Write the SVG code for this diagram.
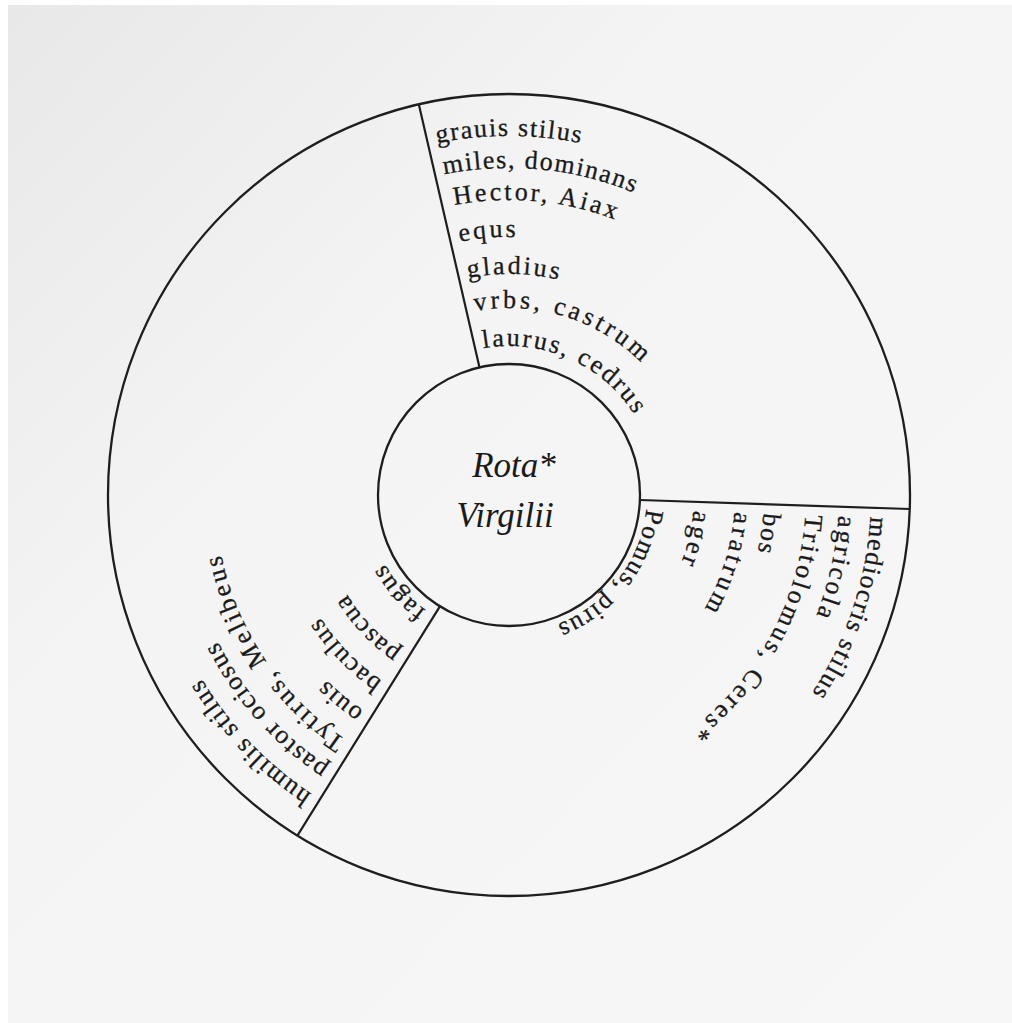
<svg xmlns="http://www.w3.org/2000/svg" xmlns:xlink="http://www.w3.org/1999/xlink" width="1012" height="1023" viewBox="0 0 1012 1023">
<style>
.ring{fill:none;stroke:#1e1e1e;stroke-width:2.3}
.div{stroke:#1e1e1e;stroke-width:2.2;fill:none}
.lbl{font-family:"Liberation Serif","DejaVu Serif",serif;font-size:26px;letter-spacing:1.6px;fill:#1a1a1a;stroke:#1a1a1a;stroke-width:0.3}
.title{font-family:"Liberation Serif","DejaVu Serif",serif;font-style:italic;font-size:35px;fill:#1a1a1a;text-anchor:middle}
</style>
<defs>
<linearGradient id="paper" x1="0" y1="0" x2="1" y2="1">
<stop offset="0" stop-color="#e8e8e8"/>
<stop offset="0.35" stop-color="#f4f4f4"/>
<stop offset="1" stop-color="#f7f7f7"/>
</linearGradient>
<path id="a359" d="M868,495 A359,359 0 0 1 151.37,526.29"/>
<path id="a327" d="M836,495 A327,327 0 0 1 183.25,523.5"/>
<path id="a295" d="M804,495 A295,295 0 0 1 215.12,520.71"/>
<path id="a258" d="M767,495 A258,258 0 0 1 251.98,517.49"/>
<path id="a221" d="M730,495 A221,221 0 0 1 288.84,514.26"/>
<path id="a187" d="M696,495 A187,187 0 0 1 322.71,511.3"/>
<path id="a149" d="M658,495 A149,149 0 0 1 360.57,507.99"/>
<path id="a362" d="M871,495 A362,362 0 0 1 148.38,526.55"/>
<path id="a330" d="M839,495 A330,330 0 0 1 180.26,523.76"/>
<path id="a297" d="M806,495 A297,297 0 0 1 213.13,520.89"/>
<path id="a255" d="M764,495 A255,255 0 0 1 254.97,517.23"/>
<path id="a226" d="M735,495 A226,226 0 0 1 283.86,514.7"/>
<path id="a185" d="M694,495 A185,185 0 0 1 324.7,511.12"/>
<path id="a138" d="M647,495 A138,138 0 0 1 371.53,507.03"/>
<path id="a358" d="M867,495 A358,358 0 0 1 152.36,526.2"/>
<path id="a326" d="M835,495 A326,326 0 0 1 184.24,523.41"/>
<path id="a294" d="M803,495 A294,294 0 0 1 216.12,520.62"/>
<path id="a260" d="M769,495 A260,260 0 0 1 249.99,517.66"/>
<path id="a225" d="M734,495 A225,225 0 0 1 284.86,514.61"/>
<path id="a190" d="M699,495 A190,190 0 0 1 319.72,511.56"/>
<path id="a142" d="M651,495 A142,142 0 0 1 367.54,507.38"/>
</defs>
<rect x="0" y="0" width="1012" height="1023" fill="#ffffff"/>
<rect x="8" y="5" width="1004" height="1018" fill="url(#paper)"/>

<g id="outer-ring">
<circle class="ring" cx="509" cy="495" r="401"/>
</g>

<g id="center">
<circle class="ring" cx="509" cy="495" r="131"/>
<text class="title" x="514" y="477">Rota*</text>
<text class="title" x="505" y="527">Virgilii</text>
</g>

<g id="connectors">
<line class="div" x1="479.5" y1="367.4" x2="418.8" y2="104.3"/>
<line class="div" x1="639.9" y1="500" x2="909.7" y2="509"/>
<line class="div" x1="439.9" y1="606.3" x2="297.4" y2="835.6"/>
</g>

<g id="segment-grauis">
<text class="lbl" transform="rotate(257 509 495)"><textPath xlink:href="#a359" href="#a359" startOffset="9">grauis stilus</textPath></text>
<text class="lbl" transform="rotate(257 509 495)"><textPath xlink:href="#a327" href="#a327" startOffset="9">miles, dominans</textPath></text>
<text class="lbl" transform="rotate(257 509 495)" style="letter-spacing:2.8px"><textPath xlink:href="#a295" href="#a295" startOffset="12">Hector, Aiax</textPath></text>
<text class="lbl" transform="rotate(257 509 495)" style="letter-spacing:2.8px"><textPath xlink:href="#a258" href="#a258" startOffset="9">equs</textPath></text>
<text class="lbl" transform="rotate(257 509 495)" style="letter-spacing:2.6px"><textPath xlink:href="#a221" href="#a221" startOffset="9">gladius</textPath></text>
<text class="lbl" transform="rotate(257 509 495)" style="letter-spacing:3.4px"><textPath xlink:href="#a187" href="#a187" startOffset="8">vrbs, castrum</textPath></text>
<text class="lbl" transform="rotate(257 509 495)" style="letter-spacing:2.3px"><textPath xlink:href="#a149" href="#a149" startOffset="8">laurus, cedrus</textPath></text>
</g>

<g id="segment-mediocris">
<text class="lbl" transform="rotate(2 509 495)"><textPath xlink:href="#a362" href="#a362" startOffset="9">mediocris stilus</textPath></text>
<text class="lbl" transform="rotate(2 509 495)" style="letter-spacing:2.7px"><textPath xlink:href="#a330" href="#a330" startOffset="9">agricola</textPath></text>
<text class="lbl" transform="rotate(2 509 495)" style="letter-spacing:3px"><textPath xlink:href="#a297" href="#a297" startOffset="9">Tritolomus, Ceres*</textPath></text>
<text class="lbl" transform="rotate(2 509 495)"><textPath xlink:href="#a255" href="#a255" startOffset="9">bos</textPath></text>
<text class="lbl" transform="rotate(2 509 495)" style="letter-spacing:3.5px"><textPath xlink:href="#a226" href="#a226" startOffset="9">aratrum</textPath></text>
<text class="lbl" transform="rotate(2 509 495)" style="letter-spacing:3px"><textPath xlink:href="#a185" href="#a185" startOffset="9">ager</textPath></text>
<text class="lbl" transform="rotate(2 509 495)"><textPath xlink:href="#a138" href="#a138" startOffset="9">Pomus, pirus</textPath></text>
</g>

<g id="segment-humilis">
<text class="lbl" transform="rotate(122 509 495)"><textPath xlink:href="#a358" href="#a358" startOffset="9">humilis stilus</textPath></text>
<text class="lbl" transform="rotate(122 509 495)"><textPath xlink:href="#a326" href="#a326" startOffset="9">pastor ociosus</textPath></text>
<text class="lbl" transform="rotate(122 509 495)" style="letter-spacing:2.8px"><textPath xlink:href="#a294" href="#a294" startOffset="9">Tytirus, Melibeus</textPath></text>
<text class="lbl" transform="rotate(122 509 495)"><textPath xlink:href="#a260" href="#a260" startOffset="9">ouis</textPath></text>
<text class="lbl" transform="rotate(122 509 495)"><textPath xlink:href="#a225" href="#a225" startOffset="9">baculus</textPath></text>
<text class="lbl" transform="rotate(122 509 495)"><textPath xlink:href="#a190" href="#a190" startOffset="9">pascua</textPath></text>
<text class="lbl" transform="rotate(122 509 495)"><textPath xlink:href="#a142" href="#a142" startOffset="9">fagus</textPath></text>
</g>
</svg>
